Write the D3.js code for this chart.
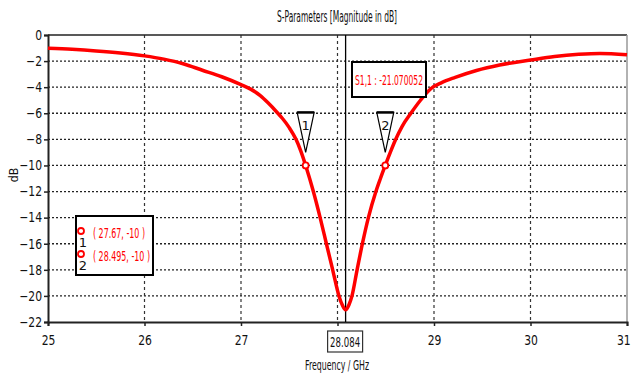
<!DOCTYPE html>
<html>
<head>
<meta charset="utf-8">
<script src="https://cdn.jsdelivr.net/npm/d3@7"></script>
<style>
body { margin: 0; background: #fff; }
text { font-family: "DejaVu Sans", sans-serif; }
</style>
</head>
<body>
<script>
// S11 curve
var freq = [25.0, 25.25, 25.5, 25.75, 26.0, 26.2, 26.4, 26.6, 26.8, 27.0, 27.1, 27.2, 27.28, 27.37, 27.43, 27.5,
  27.57, 27.62, 27.67, 27.75, 27.82, 27.885, 27.95, 28.015, 28.05, 28.084, 28.118, 28.15, 28.203, 28.258,
  28.32, 28.398, 28.445, 28.495, 28.547, 28.6, 28.67, 28.76, 28.86, 28.97, 29.08, 29.22, 29.44, 29.68,
  30.0, 30.25, 30.5, 30.72, 31.0];
var s11 = [-1.02, -1.1, -1.22, -1.38, -1.6, -1.85, -2.2, -2.7, -3.2, -3.8, -4.15, -4.65, -5.2, -5.9, -6.4, -7.1,
  -8.0, -8.9, -10.0, -12.0, -14.0, -16.0, -18.0, -20.0, -20.7, -21.07, -20.7, -20.0, -18.0, -16.0,
  -14.0, -12.0, -11.0, -10.0, -9.0, -8.05, -7.0, -6.0, -5.0, -4.1, -3.65, -3.25, -2.72, -2.3,
  -1.92, -1.65, -1.48, -1.41, -1.52];

var xTicks = [25, 26, 27, 28, 29, 30, 31];
var yTicks = [0, -2, -4, -6, -8, -10, -12, -14, -16, -18, -20, -22];

var markerIds = ["1", "2"];
var markerFreq = [27.67, 28.495];
var markerVal = [-10, -10];

var minFreq = 28.084;
var minVal = -21.070052;

var width = 631, height = 375;
var svg = d3.select("body").append("svg").attr("width", width).attr("height", height);

var x = d3.scaleLinear().domain([25, 31]).range([48, 627]);
var y = d3.scaleLinear().domain([0, -22]).range([35, 322]);

// grid
svg.append("g").selectAll("line").data(yTicks.slice(1, -1)).join("line")
  .attr("x1", x(25)).attr("x2", x(31))
  .attr("y1", d => y(d)).attr("y2", d => y(d))
  .attr("stroke", "#222").attr("stroke-width", 1.3).attr("stroke-dasharray", "2,2");
svg.append("g").selectAll("line").data(xTicks.slice(1, -1)).join("line")
  .attr("x1", d => x(d)).attr("x2", d => x(d))
  .attr("y1", y(0)).attr("y2", y(-22))
  .attr("stroke", "#333").attr("stroke-width", 1.2).attr("stroke-dasharray", "3,3");

// frame
svg.append("line").attr("x1", x(25)).attr("x2", x(31)).attr("y1", y(0)).attr("y2", y(0))
  .attr("stroke", "#222").attr("stroke-width", 1.5);
svg.append("line").attr("x1", x(31)).attr("x2", x(31)).attr("y1", y(0)).attr("y2", y(-22))
  .attr("stroke", "#999").attr("stroke-width", 1.5);

// axes
var yAxis = d3.axisLeft(y).tickValues(yTicks).tickSize(4).tickFormat(d3.format("d"));
var gy = svg.append("g").attr("transform", "translate(" + x(25) + ",0)").call(yAxis);
var xAxis = d3.axisBottom(x).tickValues(xTicks).tickSize(4).tickFormat(d => d == 28 ? "" : d);
var gx = svg.append("g").attr("transform", "translate(0," + y(-22) + ")").call(xAxis);
[gx, gy].forEach(function(g) {
  g.select(".domain").attr("stroke", "#222").attr("stroke-width", 2);
  g.selectAll(".tick line").attr("stroke", "#222").attr("stroke-width", 1.5);
  g.selectAll("text").attr("fill", "#111").style("font-size", "13.5px");
});
// narrow the labels like the original's condensed font
gy.selectAll("text").attr("x", -7.5).attr("transform", "scale(0.8,1)");
gx.selectAll("text").attr("dy", "1.15em").attr("transform", "scale(0.8,1)");
gx.selectAll(".tick").filter(d => d == 31).select("text").attr("text-anchor", "end").attr("x", 4);

// min marker vertical line
svg.append("line").attr("x1", x(minFreq)).attr("x2", x(minFreq)).attr("y1", y(0)).attr("y2", y(-22))
  .attr("stroke", "#000").attr("stroke-width", 1.3);

// curve
var line = d3.line().x((d, i) => x(freq[i])).y(d => y(d)).curve(d3.curveMonotoneX);
svg.append("path").datum(s11).attr("d", line)
  .attr("fill", "none").attr("stroke", "#ff0000").attr("stroke-width", 3.5);

// markers
markerIds.forEach(function(id, i) {
  var mx = x(markerFreq[i]), my = y(markerVal[i]);
  svg.append("path")
    .attr("d", "M" + (mx - 8.5) + "," + (my - 53) + "L" + (mx + 8.5) + "," + (my - 53) + "L" + mx + "," + (my - 13) + "Z")
    .attr("fill", "#fff").attr("stroke", "#000").attr("stroke-width", 1.2);
  svg.append("line").attr("x1", mx - 8.5).attr("x2", mx + 8.5).attr("y1", my - 53).attr("y2", my - 53)
    .attr("stroke", "#000").attr("stroke-width", 2.5);
  svg.append("text").attr("x", mx).attr("y", my - 35).attr("text-anchor", "middle")
    .style("font-size", "13px").attr("fill", "#111").text(id);
  svg.append("circle").attr("cx", mx).attr("cy", my).attr("r", 3)
    .attr("fill", "#fff").attr("stroke", "#ff0000").attr("stroke-width", 1.8);
});

// min value label
svg.append("rect").attr("x", 352).attr("y", 62).attr("width", 74).attr("height", 35)
  .attr("fill", "#fff").attr("stroke", "#000").attr("stroke-width", 2);
svg.append("text").attr("x", 389).attr("y", 84.5).attr("text-anchor", "middle")
  .style("font-size", "13.5px").attr("fill", "#ff0000")
  .attr("textLength", 68).attr("lengthAdjust", "spacingAndGlyphs")
  .text("S1,1 : " + minVal);

// min freq box on axis
svg.append("rect").attr("x", x(minFreq) - 18).attr("y", 331).attr("width", 35).attr("height", 21)
  .attr("fill", "#fff").attr("stroke", "#333").attr("stroke-width", 1.2);
svg.append("text").attr("x", x(minFreq) - 0.5).attr("y", 346.5).attr("text-anchor", "middle")
  .style("font-size", "13.5px").attr("fill", "#111")
  .attr("textLength", 30).attr("lengthAdjust", "spacingAndGlyphs").text(minFreq);

// legend of markers
svg.append("rect").attr("x", 76).attr("y", 216).attr("width", 77).attr("height", 59)
  .attr("fill", "#fff").attr("stroke", "#000").attr("stroke-width", 2);
markerIds.forEach(function(id, i) {
  var ly = 231 + i * 23;
  svg.append("circle").attr("cx", 81).attr("cy", ly).attr("r", 3)
    .attr("fill", "#fff").attr("stroke", "#ff0000").attr("stroke-width", 1.8);
  svg.append("text").attr("x", 83).attr("y", ly + 16).attr("text-anchor", "middle")
    .style("font-size", "13px").attr("fill", "#111").text(id);
  svg.append("text").attr("x", 93).attr("y", ly + 6.5)
    .style("font-size", "13.5px").attr("fill", "#ff0000")
    .attr("textLength", i == 0 ? 52 : 57).attr("lengthAdjust", "spacingAndGlyphs")
    .text("( " + markerFreq[i] + ", " + markerVal[i] + " )");
});

// titles
svg.append("text").attr("x", 337).attr("y", 22).attr("text-anchor", "middle")
  .style("font-size", "15px").attr("fill", "#111")
  .attr("textLength", 120).attr("lengthAdjust", "spacingAndGlyphs")
  .text("S-Parameters [Magnitude in dB]");
svg.append("text").attr("x", 337).attr("y", 370).attr("text-anchor", "middle")
  .style("font-size", "14.5px").attr("fill", "#111")
  .attr("textLength", 64).attr("lengthAdjust", "spacingAndGlyphs")
  .text("Frequency / GHz");
svg.append("text").attr("transform", "translate(18,175) rotate(-90) scale(0.85,1)").attr("text-anchor", "middle")
  .style("font-size", "13px").attr("fill", "#111").text("dB");
</script>
</body>
</html>
